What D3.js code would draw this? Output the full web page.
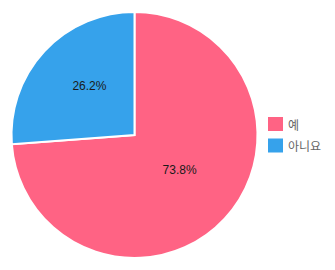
<!DOCTYPE html>
<html>
<head>
<meta charset="utf-8">
<script src="https://cdn.jsdelivr.net/npm/d3@7"></script>
<style>
body { margin: 0; background: #fff; }
svg { display: block; }
</style>
</head>
<body>
<div id="chart"></div>
<script>
const width = 335, height = 270;

// data
const labels = ["예", "아니요"];
const values = [73.8, 26.2];
const colors = ["#ff6384", "#36a2eb"];

const cx = 134.5, cy = 135, radius = 123;

const svg = d3.select("#chart")
  .append("svg")
  .attr("width", width)
  .attr("height", height);

const g = svg.append("g")
  .attr("transform", "translate(" + cx + "," + cy + ")");

const pie = d3.pie()
  .sort(null)
  .value(d => d);

const arc = d3.arc()
  .innerRadius(0)
  .outerRadius(radius);

const labelArc = d3.arc()
  .innerRadius(radius * 0.5)
  .outerRadius(radius * 0.5);

const slices = pie(values);

g.selectAll(".arc")
  .data(slices)
  .enter()
  .append("path")
  .attr("class", "arc")
  .attr("d", arc)
  .style("fill", (d, i) => colors[i])
  .style("stroke", "#fff")
  .style("stroke-width", 2);

g.selectAll(".lbl")
  .data(slices)
  .enter()
  .append("text")
  .attr("class", "lbl")
  .attr("transform", d => {
    const c = labelArc.centroid(d);
    return "translate(" + c[0] + "," + (c[1] - 7) + ")";
  })
  .attr("text-anchor", "middle")
  .attr("dominant-baseline", "central")
  .style("font-family", "'Liberation Sans', Arial, sans-serif")
  .style("font-size", "12px")
  .style("fill", "#1a1a1a")
  .text(d => d.data.toFixed(1) + "%");

// legend
const legend = svg.append("g")
  .attr("transform", "translate(268,117)");

const item = legend.selectAll(".item")
  .data(labels)
  .enter()
  .append("g")
  .attr("class", "item")
  .attr("transform", (d, i) => "translate(0," + (i * 21.5) + ")");

item.append("rect")
  .attr("width", 15)
  .attr("height", 14)
  .style("fill", (d, i) => colors[i]);

item.append("text")
  .attr("x", 20)
  .attr("y", 7)
  .attr("dominant-baseline", "central")
  .style("font-family", "'Noto Sans CJK KR', sans-serif")
  .style("font-size", "12px")
  .style("fill", "#666")
  .text(d => d);
</script>
</body>
</html>
